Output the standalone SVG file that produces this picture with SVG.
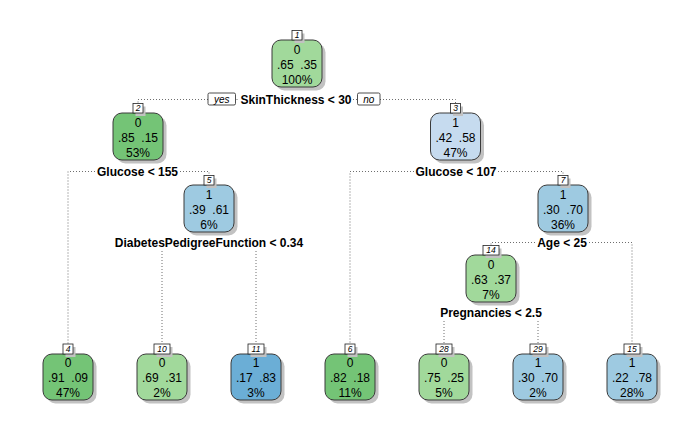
<svg xmlns="http://www.w3.org/2000/svg" width="700" height="432" viewBox="0 0 700 432">
  <style>
    .bg { fill: #ffffff; }
    .shadow { fill: #c2c2c2; }
    .box { stroke: #3a3a3a; stroke-width: 1; }
    .g1 { fill: #74c476; }
    .g2 { fill: #a1d99b; }
    .b0 { fill: #c6dbef; }
    .b1 { fill: #9ecae1; }
    .b2 { fill: #6baed6; }
    .lab { fill: #ffffff; stroke: #222222; stroke-width: 0.8; }
    .num { font-family: "Liberation Sans", Arial, Helvetica, sans-serif; font-size: 8.5px; font-style: italic; text-anchor: middle; fill: #000000; }
    .txt { font-family: "Liberation Sans", Arial, Helvetica, sans-serif; font-size: 12px; text-anchor: middle; fill: #000000; white-space: pre; }
    .split { font-family: "Liberation Sans", Arial, Helvetica, sans-serif; font-size: 12px; font-weight: bold; text-anchor: middle; fill: #000000; }
    .yn { font-family: "Liberation Sans", Arial, Helvetica, sans-serif; font-size: 10px; font-style: italic; text-anchor: middle; fill: #000000; }
    .ynbox { fill: #ffffff; stroke: #222222; stroke-width: 0.8; }
    .edge { fill: none; stroke: #6e6e6e; stroke-width: 1; stroke-dasharray: 1 2; }
  </style>

  <rect class="bg" x="0" y="0" width="700" height="432"/>

  <!-- branch lines -->
  <g id="connectors">
    <!-- root split -->
    <path class="edge" d="M208,99.5 H138 V104"/>
    <path class="edge" d="M236.5,99.5 H239.5"/>
    <path class="edge" d="M353,99.5 H357"/>
    <path class="edge" d="M380,99.5 H455.5 V103.5"/>
    <!-- node 2 split -->
    <path class="edge" d="M95,171.5 H68 V344"/>
    <path class="edge" d="M180,171.5 H209 V175.5"/>
    <!-- node 3 split -->
    <path class="edge" d="M414,171.5 H350 V344"/>
    <path class="edge" d="M498,171.5 H563 V175.5"/>
    <!-- node 5 split -->
    <path class="edge" d="M162,251 V344"/>
    <path class="edge" d="M256,251 V344"/>
    <!-- node 7 split -->
    <path class="edge" d="M535,242.5 H491 V245.5"/>
    <path class="edge" d="M589,242.5 H632 V344"/>
    <!-- node 14 split -->
    <path class="edge" d="M444,321 V344"/>
    <path class="edge" d="M538,321 V344"/>
  </g>

  <!-- split labels -->
  <g id="splits">
    <rect class="ynbox" x="208" y="93" width="27.5" height="12" rx="1.5"/>
    <text class="yn" x="221.8" y="102.5">yes</text>
    <text class="split" x="296" y="103.5">SkinThickness &lt; 30</text>
    <rect class="ynbox" x="357.5" y="93" width="22.5" height="12" rx="1.5"/>
    <text class="yn" x="368.8" y="102.5">no</text>
    <text class="split" x="137.5" y="175.5">Glucose &lt; 155</text>
    <text class="split" x="456" y="176">Glucose &lt; 107</text>
    <text class="split" x="209" y="246.5">DiabetesPedigreeFunction &lt; 0.34</text>
    <text class="split" x="562" y="246.5">Age &lt; 25</text>
    <text class="split" x="491" y="317">Pregnancies &lt; 2.5</text>
  </g>

  <!-- node 1 -->
  <g id="node1">
    <rect class="shadow" x="275.5" y="43.5" width="50" height="47" rx="9"/>
    <rect class="box g2" x="272" y="40" width="50" height="47" rx="9"/>
    <rect class="shadow" x="294.5" y="33.5" width="10" height="9.5"/>
    <rect class="lab" x="292" y="30.5" width="10" height="9.5"/>
    <text class="num" x="297" y="38.3">1</text>
    <text class="txt" x="297" y="53.5">0</text>
    <text class="txt" x="297" y="68.5">.65  .35</text>
    <text class="txt" x="297" y="83.5">100%</text>
  </g>

  <!-- node 2 -->
  <g id="node2">
    <rect class="shadow" x="116.5" y="116.5" width="50" height="47" rx="9"/>
    <rect class="box g1" x="113" y="113" width="50" height="47" rx="9"/>
    <rect class="shadow" x="135.5" y="106.5" width="10" height="9.5"/>
    <rect class="lab" x="133" y="103.5" width="10" height="9.5"/>
    <text class="num" x="138" y="111.3">2</text>
    <text class="txt" x="138" y="126.5">0</text>
    <text class="txt" x="138" y="141.5">.85  .15</text>
    <text class="txt" x="138" y="156.5">53%</text>
  </g>

  <!-- node 3 -->
  <g id="node3">
    <rect class="shadow" x="434" y="116.5" width="50" height="47" rx="9"/>
    <rect class="box b0" x="430.5" y="113" width="50" height="47" rx="9"/>
    <rect class="shadow" x="453" y="106.5" width="10" height="9.5"/>
    <rect class="lab" x="450.5" y="103.5" width="10" height="9.5"/>
    <text class="num" x="455.5" y="111.3">3</text>
    <text class="txt" x="455.5" y="126.5">1</text>
    <text class="txt" x="455.5" y="141.5">.42  .58</text>
    <text class="txt" x="455.5" y="156.5">47%</text>
  </g>

  <!-- node 5 -->
  <g id="node5">
    <rect class="shadow" x="187.5" y="188.5" width="50" height="47" rx="9"/>
    <rect class="box b1" x="184" y="185" width="50" height="47" rx="9"/>
    <rect class="shadow" x="206.5" y="178.5" width="10" height="9.5"/>
    <rect class="lab" x="204" y="175.5" width="10" height="9.5"/>
    <text class="num" x="209" y="183.3">5</text>
    <text class="txt" x="209" y="198.5">1</text>
    <text class="txt" x="209" y="213.5">.39  .61</text>
    <text class="txt" x="209" y="228.5">6%</text>
  </g>

  <!-- node 7 -->
  <g id="node7">
    <rect class="shadow" x="541.5" y="188.5" width="50" height="47" rx="9"/>
    <rect class="box b1" x="538" y="185" width="50" height="47" rx="9"/>
    <rect class="shadow" x="560.5" y="178.5" width="10" height="9.5"/>
    <rect class="lab" x="558" y="175.5" width="10" height="9.5"/>
    <text class="num" x="563" y="183.3">7</text>
    <text class="txt" x="563" y="198.5">1</text>
    <text class="txt" x="563" y="213.5">.30  .70</text>
    <text class="txt" x="563" y="228.5">36%</text>
  </g>

  <!-- node 14 -->
  <g id="node14">
    <rect class="shadow" x="469.5" y="258.5" width="50" height="47" rx="9"/>
    <rect class="box g2" x="466" y="255" width="50" height="47" rx="9"/>
    <rect class="shadow" x="485.5" y="248.5" width="16" height="9.5"/>
    <rect class="lab" x="483" y="245.5" width="16" height="9.5"/>
    <text class="num" x="491" y="253.3">14</text>
    <text class="txt" x="491" y="268.5">0</text>
    <text class="txt" x="491" y="283.5">.63  .37</text>
    <text class="txt" x="491" y="298.5">7%</text>
  </g>

  <!-- leaf 4 -->
  <g id="node4">
    <rect class="shadow" x="46.5" y="357.5" width="50" height="46" rx="9"/>
    <rect class="box g1" x="43" y="354" width="50" height="46" rx="9"/>
    <rect class="shadow" x="65.5" y="347" width="10" height="10"/>
    <rect class="lab" x="63" y="344" width="10" height="10"/>
    <text class="num" x="68" y="352">4</text>
    <text class="txt" x="68" y="367.3">0</text>
    <text class="txt" x="68" y="382">.91  .09</text>
    <text class="txt" x="68" y="397">47%</text>
  </g>

  <!-- leaf 10 -->
  <g id="node10">
    <rect class="shadow" x="140.5" y="357.5" width="50" height="46" rx="9"/>
    <rect class="box g2" x="137" y="354" width="50" height="46" rx="9"/>
    <rect class="shadow" x="156.5" y="347" width="16" height="10"/>
    <rect class="lab" x="154" y="344" width="16" height="10"/>
    <text class="num" x="162" y="352">10</text>
    <text class="txt" x="162" y="367.3">0</text>
    <text class="txt" x="162" y="382">.69  .31</text>
    <text class="txt" x="162" y="397">2%</text>
  </g>

  <!-- leaf 11 -->
  <g id="node11">
    <rect class="shadow" x="234.5" y="357.5" width="50" height="46" rx="9"/>
    <rect class="box b2" x="231" y="354" width="50" height="46" rx="9"/>
    <rect class="shadow" x="250.5" y="347" width="16" height="10"/>
    <rect class="lab" x="248" y="344" width="16" height="10"/>
    <text class="num" x="256" y="352">11</text>
    <text class="txt" x="256" y="367.3">1</text>
    <text class="txt" x="256" y="382">.17  .83</text>
    <text class="txt" x="256" y="397">3%</text>
  </g>

  <!-- leaf 6 -->
  <g id="node6">
    <rect class="shadow" x="328.5" y="357.5" width="50" height="46" rx="9"/>
    <rect class="box g1" x="325" y="354" width="50" height="46" rx="9"/>
    <rect class="shadow" x="347.5" y="347" width="10" height="10"/>
    <rect class="lab" x="345" y="344" width="10" height="10"/>
    <text class="num" x="350" y="352">6</text>
    <text class="txt" x="350" y="367.3">0</text>
    <text class="txt" x="350" y="382">.82  .18</text>
    <text class="txt" x="350" y="397">11%</text>
  </g>

  <!-- leaf 28 -->
  <g id="node28">
    <rect class="shadow" x="422.5" y="357.5" width="50" height="46" rx="9"/>
    <rect class="box g2" x="419" y="354" width="50" height="46" rx="9"/>
    <rect class="shadow" x="438.5" y="347" width="16" height="10"/>
    <rect class="lab" x="436" y="344" width="16" height="10"/>
    <text class="num" x="444" y="352">28</text>
    <text class="txt" x="444" y="367.3">0</text>
    <text class="txt" x="444" y="382">.75  .25</text>
    <text class="txt" x="444" y="397">5%</text>
  </g>

  <!-- leaf 29 -->
  <g id="node29">
    <rect class="shadow" x="516.5" y="357.5" width="50" height="46" rx="9"/>
    <rect class="box b1" x="513" y="354" width="50" height="46" rx="9"/>
    <rect class="shadow" x="532.5" y="347" width="16" height="10"/>
    <rect class="lab" x="530" y="344" width="16" height="10"/>
    <text class="num" x="538" y="352">29</text>
    <text class="txt" x="538" y="367.3">1</text>
    <text class="txt" x="538" y="382">.30  .70</text>
    <text class="txt" x="538" y="397">2%</text>
  </g>

  <!-- leaf 15 -->
  <g id="node15">
    <rect class="shadow" x="610.5" y="357.5" width="50" height="46" rx="9"/>
    <rect class="box b1" x="607" y="354" width="50" height="46" rx="9"/>
    <rect class="shadow" x="626.5" y="347" width="16" height="10"/>
    <rect class="lab" x="624" y="344" width="16" height="10"/>
    <text class="num" x="632" y="352">15</text>
    <text class="txt" x="632" y="367.3">1</text>
    <text class="txt" x="632" y="382">.22  .78</text>
    <text class="txt" x="632" y="397">28%</text>
  </g>
</svg>
